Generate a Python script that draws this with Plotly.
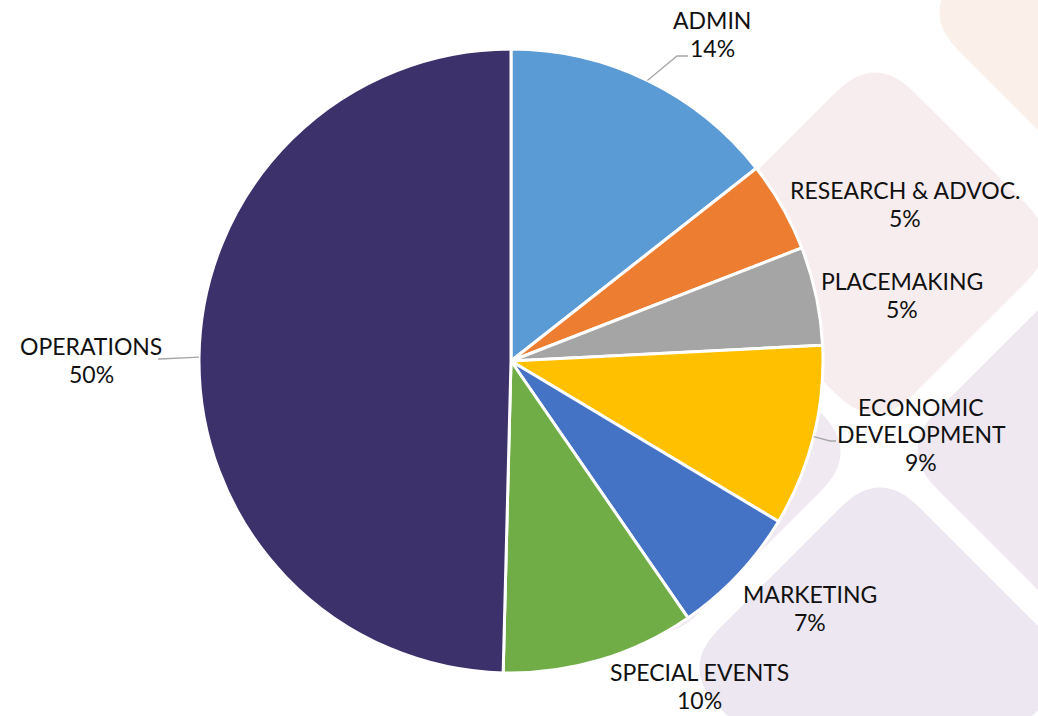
import math
import plotly.graph_objects as go

# ---- data ----
labels = ["ADMIN", "RESEARCH & ADVOC.", "PLACEMAKING", "ECONOMIC DEVELOPMENT",
          "MARKETING", "SPECIAL EVENTS", "OPERATIONS"]
label_lines = [["ADMIN"], ["RESEARCH & ADVOC."], ["PLACEMAKING"], ["ECONOMIC", "DEVELOPMENT"],
               ["MARKETING"], ["SPECIAL EVENTS"], ["OPERATIONS"]]
values = [14.4, 4.7, 5.1, 9.4, 6.8, 10.0, 49.6]
colors = ["#5B9BD5", "#ED7D31", "#A5A5A5", "#FFC000", "#4472C4", "#70AD47", "#3C316B"]

W, H = 1038, 716
# pie geometry in pixels
CX, CY, R = 511, 361, 312
LINE_H = 27.5

# label block centres (pixels) and leader-line elbows
label_pos = {
    "ADMIN": (712, 34),
    "RESEARCH & ADVOC.": (905, 204),
    "PLACEMAKING": (902, 295),
    "ECONOMIC DEVELOPMENT": (921, 434),
    "MARKETING": (810, 608),
    "SPECIAL EVENTS": (699, 686),
    "OPERATIONS": (91, 360),
}
leaders = {  # elbow point, end point
    "ADMIN": ((677, 56), (688, 56)),
    "ECONOMIC DEVELOPMENT": ((830, 441), (836, 441)),
    "OPERATIONS": ((160, 359), (158, 359)),
}

fig = go.Figure()

# hidden pixel-space axes for decoration
fig.add_trace(go.Scatter(x=[0, W], y=[0, H], mode="markers",
                         marker=dict(opacity=0), hoverinfo="skip", showlegend=False))

fig.add_trace(go.Pie(
    labels=labels, values=values, sort=False, direction="clockwise", rotation=0,
    marker=dict(colors=colors, line=dict(color="white", width=3)),
    textinfo="none", hoverinfo="label+percent", showlegend=False,
    domain=dict(x=[(CX - R) / W, (CX + R) / W], y=[1 - (CY + R) / H, 1 - (CY - R) / H]),
))


def rdiamond(cx, cy, h, d=55):
    pts = [(cx, cy - h), (cx + h, cy), (cx, cy + h), (cx - h, cy)]
    path = ""
    n = len(pts)

    def toward(a, b, dist):
        L = math.hypot(b[0] - a[0], b[1] - a[1])
        return (a[0] + (b[0] - a[0]) * dist / L, a[1] + (b[1] - a[1]) * dist / L)

    for i in range(n):
        p = pts[i]
        s = toward(p, pts[i - 1], d)
        e = toward(p, pts[(i + 1) % n], d)
        path += ("M" if i == 0 else "L") + f"{s[0]:.1f},{s[1]:.1f} Q{p[0]},{p[1]} {e[0]:.1f},{e[1]:.1f} "
    return path + "Z"


shapes = []
deco = [
    (1120, 12, 200, "#FBEFEA"),
    (875, 243, 190, "#F8EDEE"),
    (660, 452, 200, "#F0E9F1"),
    (1098, 450, 200, "#EFE8F1"),
    (880, 668, 200, "#ECE7F0"),
]
for cx, cy, h, c in deco:
    shapes.append(dict(type="path", path=rdiamond(cx, cy, h), xref="x", yref="y",
                       fillcolor=c, line=dict(width=0), layer="below"))

# leader lines from slice mid-angle
total = sum(values)
cum = 0
mid_angle = {}
for lab, v in zip(labels, values):
    mid_angle[lab] = (cum + v / 2) / total * 2 * math.pi
    cum += v

for lab, (elbow, end) in leaders.items():
    a = mid_angle[lab]
    sx = CX + R * math.sin(a)
    sy = CY - R * math.cos(a)
    shapes.append(dict(type="path", xref="x", yref="y",
                       path=f"M{sx:.1f},{sy:.1f} L{elbow[0]},{elbow[1]} L{end[0]},{end[1]}",
                       line=dict(color="#A6A6A6", width=1.3), layer="above"))

annotations = []
for lab, lines, v in zip(labels, label_lines, values):
    x, y = label_pos[lab]
    all_lines = lines + [f"{round(v / total * 100)}%"]
    n = len(all_lines)
    for i, t in enumerate(all_lines):
        annotations.append(dict(
            x=x, y=y + (i - (n - 1) / 2) * LINE_H, xref="x", yref="y", showarrow=False,
            text=t, xanchor="center", yanchor="middle", align="center",
            font=dict(family="Lato", size=23, color="#111111"),
        ))

fig.update_layout(
    width=W, height=H,
    margin=dict(l=0, r=0, t=0, b=0),
    paper_bgcolor="white", plot_bgcolor="rgba(0,0,0,0)",
    xaxis=dict(range=[0, W], visible=False, fixedrange=True),
    yaxis=dict(range=[H, 0], visible=False, fixedrange=True),
    shapes=shapes, annotations=annotations, showlegend=False,
)

fig.write_html("out.html", config={"displayModeBar": False},
               post_script="document.body.style.margin='0';document.body.style.overflow='hidden';")
